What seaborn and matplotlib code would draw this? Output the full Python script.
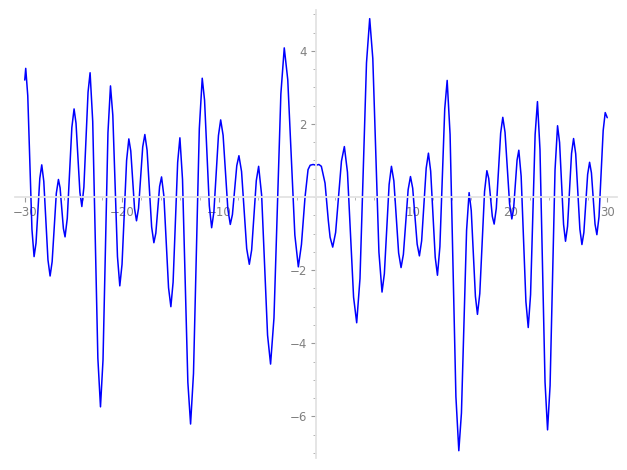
import matplotlib

matplotlib.use("Agg")
import matplotlib.pyplot as plt
import numpy as np
import pandas as pd
import seaborn as sns
from matplotlib.ticker import FixedLocator, MultipleLocator

# points (extrema plus a few shoulder points)
curve_x = [
    -30.00, -29.90, -29.69, -29.26, -29.04, -28.84, -28.45, -28.25, -28.04, -27.61,
    -27.39, -27.18, -26.75, -26.53, -26.36, -26.02, -25.85, -25.62, -25.15, -24.92,
    -24.72, -24.32, -24.12, -23.91, -23.48, -23.27, -23.00, -22.47, -22.20, -21.94,
    -21.43, -21.17, -20.93, -20.45, -20.21, -19.98, -19.51, -19.28, -19.08, -18.69,
    -18.49, -18.28, -17.85, -17.63, -17.40, -16.93, -16.70, -16.50, -16.11, -15.91,
    -15.67, -15.19, -14.95, -14.72, -14.25, -14.02, -13.75, -13.20, -12.92, -12.62,
    -12.02, -11.72, -11.48, -10.99, -10.75, -10.52, -10.05, -9.82, -9.57, -9.08,
    -8.83, -8.61, -8.16, -7.94, -7.67, -7.14, -6.87, -6.63, -6.15, -5.91,
    -5.60, -4.99, -4.68, -4.33, -3.62, -3.27, -2.91, -2.18, -1.82, -1.50,
    -1.13, -0.82, -0.60, -0.30, 0.00, 0.30, 0.55, 0.93, 1.27, 1.45,
    1.72, 2.02, 2.62, 2.92, 3.24, 3.87, 4.19, 4.53, 5.20, 5.53,
    5.85, 6.48, 6.80, 7.04, 7.53, 7.77, 8.02, 8.51, 8.76, 9.00,
    9.49, 9.73, 9.96, 10.42, 10.65, 10.88, 11.35, 11.58, 11.81, 12.28,
    12.51, 12.76, 13.26, 13.51, 13.81, 14.41, 14.71, 14.98, 15.51, 15.77,
    15.99, 16.42, 16.63, 16.87, 17.36, 17.60, 17.79, 18.16, 18.35, 18.57,
    19.02, 19.24, 19.47, 19.94, 20.17, 20.35, 20.71, 20.89, 21.13, 21.62,
    21.86, 22.10, 22.57, 22.81, 23.07, 23.59, 23.85, 24.11, 24.62, 24.88,
    25.09, 25.50, 25.70, 25.91, 26.32, 26.53, 26.75, 27.18, 27.39, 27.59,
    27.98, 28.18, 28.37, 28.74, 28.93, 29.15, 29.58, 29.79, 30.00,
]
curve_y = [
    3.20, 3.52, 2.77, -0.88, -1.63, -1.26, 0.51, 0.88, 0.43, -1.72,
    -2.16, -1.77, 0.10, 0.48, 0.25, -0.86, -1.09, -0.58, 1.90, 2.41,
    2.02, 0.13, -0.26, 0.27, 2.87, 3.40, 2.07, -4.41, -5.74, -4.46,
    1.76, 3.04, 2.24, -1.63, -2.43, -1.84, 1.00, 1.59, 1.26, -0.32,
    -0.65, -0.31, 1.37, 1.71, 1.28, -0.82, -1.25, -0.99, 0.29, 0.55,
    0.03, -2.48, -3.00, -2.33, 0.95, 1.62, 0.48, -5.07, -6.21, -4.83,
    1.87, 3.25, 2.65, -0.24, -0.84, -0.41, 1.68, 2.11, 1.69, -0.33,
    -0.75, -0.48, 0.86, 1.13, 0.70, -1.41, -1.84, -1.45, 0.45, 0.84,
    0.05, -3.78, -4.57, -3.31, 2.82, 4.08, 3.21, -1.04, -1.91, -1.30,
    0.00, 0.75, 0.87, 0.89, 0.87, 0.89, 0.84, 0.38, -0.65, -1.10,
    -1.37, -0.97, 0.98, 1.38, 0.68, -2.74, -3.44, -2.23, 3.67, 4.88,
    3.79, -1.51, -2.60, -2.10, 0.34, 0.84, 0.44, -1.53, -1.93, -1.57,
    0.20, 0.56, 0.24, -1.29, -1.61, -1.20, 0.79, 1.20, 0.71, -1.65,
    -2.14, -1.36, 2.41, 3.19, 1.71, -5.46, -6.94, -5.91, -0.91, 0.12,
    -0.37, -2.72, -3.21, -2.64, 0.15, 0.72, 0.51, -0.53, -0.74, -0.31,
    1.75, 2.18, 1.77, -0.19, -0.60, -0.33, 1.01, 1.28, 0.57, -2.86,
    -3.57, -2.67, 1.71, 2.61, 1.30, -5.06, -6.37, -5.16, 0.74, 1.95,
    1.49, -0.75, -1.21, -0.80, 1.19, 1.60, 1.18, -0.88, -1.30, -0.97,
    0.62, 0.95, 0.66, -0.74, -1.03, -0.54, 1.82, 2.31, 2.17,
]
x_major = [-30, -20, -10, 10, 20, 30]
y_major = [-6, -4, -2, 2, 4]

sns.set_style("white")
plt.rcParams["font.family"] = ["DejaVu Sans"]

df = pd.DataFrame({"x": curve_x, "y": curve_y})

fig = plt.figure(figsize=(6.27, 4.70), dpi=100)
ax = fig.add_axes([0.024, 0.0255, 0.96, 0.9535])
sns.lineplot(data=df, x="x", y="y", sort=False, color="#0000ff", lw=1.1, ax=ax)

ax.set_xlim(-31, 31)
ax.set_ylim(-7.14, 5.12)
ax.set_xlabel("")
ax.set_ylabel("")

# axes crossing at the origin, sage style
for side in ["top", "right"]:
    ax.spines[side].set_visible(False)
for side in ["left", "bottom"]:
    ax.spines[side].set_position("zero")
    ax.spines[side].set_color("#e3e3e3")
    ax.spines[side].set_linewidth(1.3)

ax.xaxis.set_major_locator(FixedLocator(x_major))
ax.yaxis.set_major_locator(FixedLocator(y_major))
ax.xaxis.set_minor_locator(MultipleLocator(2))
ax.yaxis.set_minor_locator(MultipleLocator(0.5))
ax.set_xticklabels([f"{v:d}".replace("-", "\u2212") for v in x_major])
ax.set_yticklabels([f"{v:d}".replace("-", "\u2212") for v in y_major])
ax.tick_params(which="both", bottom=True, left=True, top=False, right=False)
ax.tick_params(which="major", length=3.5, width=0.8, color="#999999",
               labelcolor="#808080", labelsize=8.5, pad=3, direction="out")
ax.tick_params(which="minor", length=2, width=0.6, color="#aaaaaa", direction="out")
ax.set_facecolor("white")
ax.grid(False)

fig.savefig("out.png", dpi=100)
